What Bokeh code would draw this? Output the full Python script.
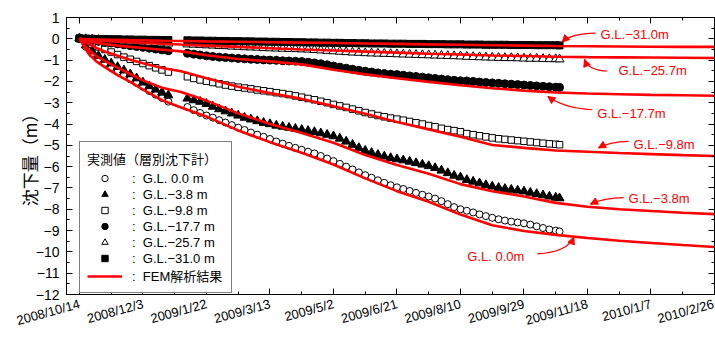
from bokeh.plotting import figure
from bokeh.models import (FixedTicker, LinearAxis, Range1d, Legend, LegendItem,
                          Arrow, NormalHead)
from bokeh.core.properties import value
from bokeh.embed import file_html
from bokeh.resources import INLINE

# ---------------- data ----------------
# x = days since 2008/10/14
tick_days = [0, 50, 100, 150, 200, 250, 300, 350, 400, 450, 500]
tick_labels = ["2008/10/14", "2008/12/3", "2009/1/22", "2009/3/13", "2009/5/2",
               "2009/6/21", "2009/8/10", "2009/9/29", "2009/11/18", "2010/1/7", "2010/2/26"]
minor_days = [25, 75, 125, 175, 225, 275, 325, 375, 425, 475]
y_ticks = [1, 0, -1, -2, -3, -4, -5, -6, -7, -8, -9, -10, -11, -12]

meas_days = [0, 5, 10, 15, 20, 25, 30, 35, 40, 45, 50, 55, 60, 65, 70,
             85, 90, 95, 100, 105, 110, 115, 120, 125, 130, 135, 140, 145, 150, 155, 160,
             165, 170, 175, 180, 185, 190, 195, 200, 205, 210, 215, 220, 225, 230, 235, 240,
             245, 250, 255, 260, 265, 270, 275, 280, 285, 290, 295, 300,
             305, 310, 315, 320, 325, 330, 335, 340, 345, 350, 355, 360, 365, 370, 375, 378]

gl_00 = [0.02, -0.38, -0.7, -0.95, -1.17, -1.37, -1.55, -1.72, -1.9, -2.07, -2.25, -2.45, -2.62, -2.78, -2.95,
         -3.2, -3.35, -3.48, -3.6, -3.7, -3.82, -3.93, -4.05, -4.17, -4.28, -4.4, -4.5, -4.6, -4.7, -4.82, -4.92,
         -5.02, -5.12, -5.21, -5.3, -5.38, -5.5, -5.62, -5.74, -5.87, -6.0, -6.13, -6.27, -6.4, -6.52, -6.64, -6.76,
         -6.87, -6.97, -7.05, -7.14, -7.23, -7.32, -7.4, -7.5, -7.62, -7.76, -7.9, -8.0,
         -8.07, -8.15, -8.24, -8.32, -8.4, -8.47, -8.53, -8.58, -8.62, -8.66, -8.72, -8.8, -8.88, -8.95, -9.0, -9.04]
gl_38 = [0.02, -0.3, -0.57, -0.8, -0.98, -1.15, -1.32, -1.48, -1.66, -1.85, -2.05, -2.22, -2.38, -2.52, -2.65,
         -2.8, -2.88, -2.95, -3.05, -3.18, -3.3, -3.4, -3.5, -3.6, -3.7, -3.78, -3.86, -3.94, -4.0, -4.07, -4.12,
         -4.17, -4.22, -4.27, -4.32, -4.37, -4.43, -4.5, -4.57, -4.68, -4.82, -4.97, -5.12, -5.25, -5.35, -5.44, -5.52,
         -5.59, -5.65, -5.7, -5.76, -5.83, -5.9, -5.97, -6.06, -6.18, -6.3, -6.42, -6.5,
         -6.62, -6.7, -6.78, -6.86, -6.93, -6.99, -7.04, -7.08, -7.12, -7.16, -7.22, -7.28, -7.34, -7.4, -7.45, -7.48]
gl_98 = [0.02, -0.12, -0.25, -0.38, -0.5, -0.62, -0.74, -0.86, -0.96, -1.06, -1.16, -1.26, -1.36, -1.46, -1.56,
         -1.78, -1.86, -1.93, -1.99, -2.05, -2.11, -2.17, -2.22, -2.27, -2.31, -2.35, -2.4, -2.44, -2.48, -2.53, -2.57,
         -2.62, -2.68, -2.74, -2.8, -2.86, -2.93, -3.0, -3.08, -3.15, -3.22, -3.3, -3.38, -3.46, -3.53, -3.6, -3.66,
         -3.72, -3.77, -3.82, -3.88, -3.94, -4.0, -4.07, -4.13, -4.2, -4.26, -4.31, -4.36,
         -4.45, -4.5, -4.55, -4.6, -4.65, -4.69, -4.72, -4.75, -4.78, -4.81, -4.84, -4.87, -4.9, -4.93, -4.95, -4.97]
gl_177 = [0.02, -0.04, -0.08, -0.12, -0.16, -0.2, -0.24, -0.28, -0.32, -0.36, -0.4, -0.44, -0.48, -0.52, -0.56,
          -0.68, -0.72, -0.76, -0.8, -0.83, -0.86, -0.88, -0.9, -0.92, -0.94, -0.96, -0.97, -0.99, -1.0, -1.01, -1.03,
          -1.04, -1.05, -1.07, -1.1, -1.13, -1.17, -1.22, -1.28, -1.33, -1.38, -1.43, -1.48, -1.52, -1.56, -1.6, -1.63,
          -1.66, -1.68, -1.71, -1.74, -1.77, -1.8, -1.83, -1.86, -1.89, -1.92, -1.95, -1.97,
          -1.98, -2.0, -2.03, -2.05, -2.07, -2.09, -2.11, -2.13, -2.15, -2.17, -2.19, -2.21, -2.23, -2.25, -2.27, -2.28]
gl_257 = [0.02, -0.01, -0.03, -0.05, -0.07, -0.09, -0.1, -0.12, -0.13, -0.15, -0.16, -0.18, -0.19, -0.21, -0.22,
          -0.26, -0.27, -0.28, -0.3, -0.31, -0.33, -0.34, -0.36, -0.37, -0.39, -0.4, -0.41, -0.43, -0.44, -0.45, -0.46,
          -0.47, -0.48, -0.49, -0.5, -0.52, -0.54, -0.56, -0.58, -0.6, -0.62, -0.64, -0.65, -0.67, -0.68, -0.69, -0.7,
          -0.71, -0.72, -0.73, -0.74, -0.75, -0.76, -0.77, -0.78, -0.79, -0.8, -0.81, -0.82,
          -0.84, -0.85, -0.86, -0.87, -0.88, -0.89, -0.9, -0.9, -0.91, -0.92, -0.93, -0.93, -0.94, -0.95, -0.95, -0.96]
gl_310 = [0.02, 0.01, 0.0, -0.01, -0.01, -0.02, -0.02, -0.03, -0.03, -0.04, -0.04, -0.05, -0.05, -0.06, -0.06,
          -0.07, -0.08, -0.08, -0.09, -0.09, -0.1, -0.1, -0.11, -0.11, -0.12, -0.12, -0.13, -0.13, -0.14, -0.14, -0.15,
          -0.15, -0.16, -0.16, -0.17, -0.17, -0.18, -0.18, -0.19, -0.19, -0.2, -0.2, -0.21, -0.21, -0.22, -0.22, -0.22,
          -0.23, -0.23, -0.23, -0.24, -0.24, -0.24, -0.25, -0.25, -0.25, -0.26, -0.26, -0.26,
          -0.27, -0.27, -0.27, -0.28, -0.28, -0.28, -0.28, -0.29, -0.29, -0.29, -0.29, -0.3, -0.3, -0.3, -0.3, -0.31]

fem_days = [0, 3, 7, 13, 20, 30, 40, 50, 65, 80, 100, 125, 150, 175, 200, 225, 250, 275, 300,
            325, 350, 375, 400, 425, 450, 475, 500]
fem_00 = [0, -0.3, -0.68, -1.05, -1.33, -1.7, -2.02, -2.38, -2.88, -3.22, -3.65, -4.3, -4.85, -5.35, -5.9,
          -6.55, -7.15, -7.65, -8.25, -8.75, -9.02, -9.2, -9.35, -9.48, -9.58, -9.68, -9.77]
fem_38 = [0, -0.25, -0.5, -0.8, -1.05, -1.35, -1.65, -1.95, -2.3, -2.5, -2.9, -3.5, -4.0, -4.42, -4.88,
          -5.45, -5.92, -6.33, -6.82, -7.15, -7.4, -7.7, -7.88, -8.0, -8.08, -8.16, -8.23]
fem_98 = [0, -0.1, -0.22, -0.42, -0.6, -0.8, -0.98, -1.15, -1.37, -1.52, -1.85, -2.25, -2.55, -2.82, -3.16,
          -3.52, -3.9, -4.25, -4.6, -4.98, -5.12, -5.24, -5.3, -5.36, -5.41, -5.46, -5.5]
fem_177 = [0, -0.05, -0.1, -0.18, -0.25, -0.32, -0.38, -0.43, -0.51, -0.59, -0.77, -0.95, -1.06, -1.2, -1.45,
           -1.67, -1.85, -2.02, -2.18, -2.32, -2.43, -2.52, -2.57, -2.6, -2.63, -2.65, -2.67]
fem_257 = [0, -0.02, -0.04, -0.07, -0.1, -0.13, -0.16, -0.19, -0.23, -0.27, -0.32, -0.38, -0.44, -0.5, -0.55,
           -0.6, -0.65, -0.7, -0.74, -0.78, -0.81, -0.84, -0.86, -0.87, -0.88, -0.89, -0.9]
fem_310 = [0, -0.01, -0.02, -0.03, -0.04, -0.05, -0.06, -0.07, -0.09, -0.1, -0.12, -0.14, -0.16, -0.18, -0.2,
           -0.22, -0.24, -0.26, -0.28, -0.3, -0.32, -0.34, -0.35, -0.36, -0.37, -0.38, -0.38]

legend_title = "実測値（層別沈下計）"
legend_labels = [":  G.L. 0.0 m", ":  G.L.\u22123.8 m", ":  G.L.\u22129.8 m", ":  G.L.\u221217.7 m",
                 ":  G.L.\u221225.7 m", ":  G.L.\u221231.0 m", ":  FEM解析結果"]
ann_labels = ["G.L.\u221231.0m", "G.L.\u221225.7m", "G.L.\u221217.7m", "G.L.\u22129.8m",
              "G.L.\u22123.8m", "G.L. 0.0m"]

for s in (gl_00, gl_38, gl_98, gl_177, gl_257, gl_310):
    assert len(s) == len(meas_days), len(s)
for s in (fem_00, fem_38, fem_98, fem_177, fem_257, fem_310):
    assert len(s) == len(fem_days), len(s)

# ---------------- figure ----------------
LAT = "Liberation Sans"
CJK = "Noto Sans CJK JP"

p = figure(width=715, height=338,
           x_range=Range1d(-10.2, 500), y_range=Range1d(-12, 1),
           x_axis_location=None, y_axis_location=None,
           output_backend="svg", toolbar_location=None,
           min_border_left=66, min_border_right=1, min_border_top=17, min_border_bottom=42)
p.xgrid.visible = False
p.ygrid.visible = False
p.outline_line_color = "black"
p.background_fill_color = "white"

xt = FixedTicker(ticks=tick_days, minor_ticks=minor_days)
yt = FixedTicker(ticks=y_ticks, minor_ticks=[v - 0.5 for v in y_ticks])

bottom_ax = LinearAxis()
left_ax = LinearAxis()
top_ax = LinearAxis()
right_ax = LinearAxis()
p.add_layout(bottom_ax, "below")
p.add_layout(left_ax, "left")
p.add_layout(top_ax, "above")
p.add_layout(right_ax, "right")

for ax, tk in ((bottom_ax, xt), (top_ax, xt), (left_ax, yt), (right_ax, yt)):
    ax.ticker = tk
    ax.major_tick_in = 6
    ax.major_tick_out = 0
    ax.minor_tick_in = 3
    ax.minor_tick_out = 0
    ax.axis_line_color = "black"
    ax.major_tick_line_color = "black"
    ax.minor_tick_line_color = "black"

for ax in (top_ax, right_ax):
    ax.major_label_text_font_size = "1px"
    ax.major_label_text_color = None
    ax.major_label_standoff = 0

bottom_ax.major_label_overrides = {d: l for d, l in zip(tick_days, tick_labels)}
bottom_ax.major_label_orientation = 0.27
bottom_ax.major_label_text_font = LAT
bottom_ax.major_label_text_font_size = "13px"
bottom_ax.major_label_text_color = "black"
bottom_ax.major_label_standoff = 9

left_ax.major_label_overrides = {v: str(v).replace("-", "\u2212") for v in y_ticks}
left_ax.major_label_text_font = LAT
left_ax.major_label_text_font_size = "14px"
left_ax.major_label_text_color = "black"
left_ax.major_label_standoff = 7
left_ax.axis_label = "沈下量（m）"
left_ax.axis_label_text_font = CJK
left_ax.axis_label_text_font_size = "17px"
left_ax.axis_label_text_font_style = "normal"
left_ax.axis_label_text_color = "black"
left_ax.axis_label_standoff = -9

# measured markers
r1 = p.scatter(meas_days, gl_00, marker="circle", size=7, fill_color="white", line_color="black", line_width=1)
r2 = p.scatter(meas_days, gl_38, marker="triangle", size=9, fill_color="black", line_color="black")
r3 = p.scatter(meas_days, gl_98, marker="square", size=6.5, fill_color="white", line_color="black", line_width=1)
r4 = p.scatter(meas_days, gl_177, marker="circle", size=8, fill_color="black", line_color="black")
r5 = p.scatter(meas_days, gl_257, marker="triangle", size=9, fill_color="white", line_color="black", line_width=1)
r6 = p.scatter(meas_days, gl_310, marker="square", size=7, fill_color="black", line_color="black")

# FEM curves
fem_r = None
for s in (fem_00, fem_38, fem_98, fem_177, fem_257, fem_310):
    fem_r = p.line(fem_days, s, line_color="#ff0000", line_width=2.6)

# annotations: text + curved arrows (positions in data coordinates)
ann_x = [410.3, 424.4, 407.7, 436.3, 432.3, 305.4]
ann_y = [0.2, -1.51, -3.49, -4.96, -7.48, -10.21]
p.text(ann_x, ann_y, text=ann_labels, text_font=value(LAT), text_font_size="13px",
       text_color="#ff0000", text_align="left", text_baseline="middle")

arr_x0 = [406.4, 415.6, 403.7, 432.3, 428.4, 360.5]
arr_y0 = [0.27, -1.51, -3.33, -4.81, -7.45, -10.09]
arr_cx = [386.7, 401.1, 381.4, 418.1, 412.9, 384.1]
arr_cy = [0.24, -1.5, -3.25, -4.81, -7.45, -10.01]
arr_x1 = [380.1, 397.7, 368.8, 408.7, 402.4, 389.3]
arr_y1 = [-0.15, -0.97, -2.71, -5.12, -7.76, -9.31]
p.quadratic(x0=arr_x0, y0=arr_y0, x1=arr_x1, y1=arr_y1, cx=arr_cx, cy=arr_cy,
            line_color="#ff0000", line_width=1.2)
for x1, y1, cx, cy in zip(arr_x1, arr_y1, arr_cx, arr_cy):
    p.add_layout(Arrow(end=NormalHead(size=7, fill_color="#ff0000", line_color="#ff0000", line_width=1),
                       x_start=x1 - 0.08 * (x1 - cx), y_start=y1 - 0.08 * (y1 - cy),
                       x_end=x1, y_end=y1, line_color="#ff0000", line_width=1.2))

# legend
items = [LegendItem(label=lab, renderers=[r]) for lab, r in
         zip(legend_labels, [r1, r2, r3, r4, r5, r6, fem_r])]
leg = Legend(items=items, location=(13, 1), title=legend_title + "\u3000",
             title_text_font=CJK, title_text_font_size="13px", title_text_font_style="normal",
             title_text_color="black", title_standoff=2,
             label_text_font="Liberation Sans, Noto Sans CJK JP", label_text_font_size="13px",
             label_text_color="black",
             glyph_width=35, glyph_height=16, label_height=16, spacing=0, padding=7, margin=0,
             label_standoff=10, border_line_color="black", border_line_width=1,
             background_fill_color="white", background_fill_alpha=1)
p.add_layout(leg, "center")

open("out.html", "w").write(file_html(p, INLINE))
